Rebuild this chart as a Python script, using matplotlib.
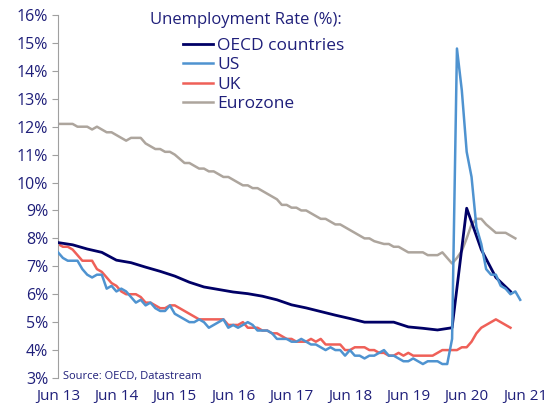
import matplotlib
matplotlib.use("Agg")
import matplotlib.pyplot as plt
import numpy as np

# months since Jun 2013
tick_labels = ["Jun 13", "Jun 14", "Jun 15", "Jun 16", "Jun 17",
               "Jun 18", "Jun 19", "Jun 20", "Jun 21"]

# US, monthly Jun 2013 - May 2021
us = [7.5, 7.3, 7.2, 7.2, 7.2, 6.9, 6.7,
      6.6, 6.7, 6.7, 6.2, 6.3, 6.1, 6.2, 6.1, 5.9, 5.7, 5.8, 5.6,
      5.7, 5.5, 5.4, 5.4, 5.6, 5.3, 5.2, 5.1, 5.0, 5.0, 5.1, 5.0,
      4.8, 4.9, 5.0, 5.1, 4.8, 4.9, 4.8, 4.9, 5.0, 4.9, 4.7, 4.7,
      4.7, 4.6, 4.4, 4.4, 4.4, 4.3, 4.3, 4.4, 4.3, 4.2, 4.2, 4.1,
      4.0, 4.1, 4.0, 4.0, 3.8, 4.0, 3.8, 3.8, 3.7, 3.8, 3.8, 3.9,
      4.0, 3.8, 3.8, 3.7, 3.6, 3.6, 3.7, 3.6, 3.5, 3.6, 3.6, 3.6,
      3.5, 3.5, 4.4, 14.8, 13.3, 11.1, 10.2, 8.4, 7.8, 6.9, 6.7, 6.7,
      6.3, 6.2, 6.0, 6.1, 5.8]

# UK, monthly Jun 2013 - Mar 2021
uk = [7.8, 7.7, 7.7, 7.6, 7.4, 7.2, 7.2,
      7.2, 6.9, 6.8, 6.6, 6.4, 6.3, 6.1, 6.0, 6.0, 6.0, 5.9, 5.7,
      5.7, 5.6, 5.5, 5.5, 5.6, 5.6, 5.5, 5.4, 5.3, 5.2, 5.1, 5.1,
      5.1, 5.1, 5.1, 5.1, 4.9, 4.9, 4.9, 5.0, 4.8, 4.8, 4.8, 4.7,
      4.7, 4.6, 4.6, 4.5, 4.4, 4.4, 4.3, 4.3, 4.3, 4.4, 4.3, 4.4,
      4.2, 4.2, 4.2, 4.2, 4.0, 4.0, 4.1, 4.1, 4.1, 4.0, 4.0, 3.9,
      3.9, 3.8, 3.8, 3.9, 3.8, 3.9, 3.8, 3.8, 3.8, 3.8, 3.8, 3.9,
      4.0, 4.0, 4.0, 4.0, 4.1, 4.1, 4.3, 4.6, 4.8, 4.9, 5.0, 5.1,
      5.0, 4.9, 4.8]

# Eurozone, monthly Jun 2013 - Apr 2021
ez = [12.1, 12.1, 12.1, 12.1, 12.0, 12.0, 12.0,
      11.9, 12.0, 11.9, 11.8, 11.8, 11.7, 11.6, 11.5, 11.6, 11.6, 11.6, 11.4,
      11.3, 11.2, 11.2, 11.1, 11.1, 11.0, 10.85, 10.7, 10.7, 10.6, 10.5, 10.5,
      10.4, 10.4, 10.3, 10.2, 10.2, 10.1, 10.0, 9.9, 9.9, 9.8, 9.8, 9.7,
      9.6, 9.5, 9.4, 9.2, 9.2, 9.1, 9.1, 9.0, 9.0, 8.9, 8.8, 8.7,
      8.7, 8.6, 8.5, 8.5, 8.4, 8.3, 8.2, 8.1, 8.0, 8.0, 7.9, 7.85,
      7.8, 7.8, 7.7, 7.7, 7.6, 7.5, 7.5, 7.5, 7.5, 7.4, 7.4, 7.4,
      7.5, 7.3, 7.1, 7.3, 7.55, 8.0, 8.5, 8.7, 8.7, 8.5, 8.35, 8.2,
      8.2, 8.2, 8.1, 8.0]

# OECD, quarterly Jun 2013 - Mar 2021
oecd = [7.85, 7.77, 7.62, 7.5, 7.22, 7.13, 6.97, 6.82,
        6.65, 6.43, 6.26, 6.17, 6.08, 6.02, 5.93, 5.8,
        5.62, 5.51, 5.38, 5.25, 5.13, 5.0, 5.0, 5.0,
        4.83, 4.78, 4.72, 4.8, 9.08, 7.6, 6.6, 6.1]

navy = "#1f1f7a"
plt.rcParams['font.family'] = ['Open Sans', 'DejaVu Sans']

fig = plt.figure(figsize=(5.5, 4.09), dpi=100)
ax = fig.add_axes([0.1055, 0.0758, 0.858, 0.8875])

ax.plot(np.arange(len(oecd)) * 3, oecd, color="#000066", lw=2.0, label="OECD countries", zorder=3)
ax.plot(np.arange(len(us)), us, color="#4f93d0", lw=1.8, label="US", zorder=4)
ax.plot(np.arange(len(uk)), uk, color="#ef6058", lw=1.8, label="UK", zorder=2)
ax.plot(np.arange(len(ez)), ez, color="#ada59d", lw=1.8, label="Eurozone", zorder=1)

ax.set_xlim(0, 97)
ax.set_ylim(3, 16)
ax.set_yticks(range(3, 17))
ax.set_yticklabels([f"{v}%" for v in range(3, 17)])
ax.set_xticks(np.arange(len(tick_labels)) * 12)
ax.set_xticklabels(tick_labels)

for s in ["top", "right", "bottom"]:
    ax.spines[s].set_visible(False)
ax.spines["left"].set_color("#a0a0a0")
ax.tick_params(axis="y", length=4, color="#a0a0a0", labelsize=11.5, labelcolor=navy, pad=3)
ax.tick_params(axis="x", length=0, labelsize=11, labelcolor=navy, pad=8)

ax.text(1, 3.05, "Source: OECD, Datastream", fontsize=8, color=navy, va="center")

ax.text(0.195, 0.985, "Unemployment Rate (%):", transform=ax.transAxes,
        fontsize=12, color=navy, va="center")
leg = ax.legend(loc="upper left", bbox_to_anchor=(0.265, 0.936), frameon=False,
                fontsize=12.5, handlelength=1.75, handletextpad=0.22,
                labelspacing=0.17, borderaxespad=0, borderpad=0)
for t in leg.get_texts():
    t.set_color(navy)

fig.savefig("out.png", dpi=100)
